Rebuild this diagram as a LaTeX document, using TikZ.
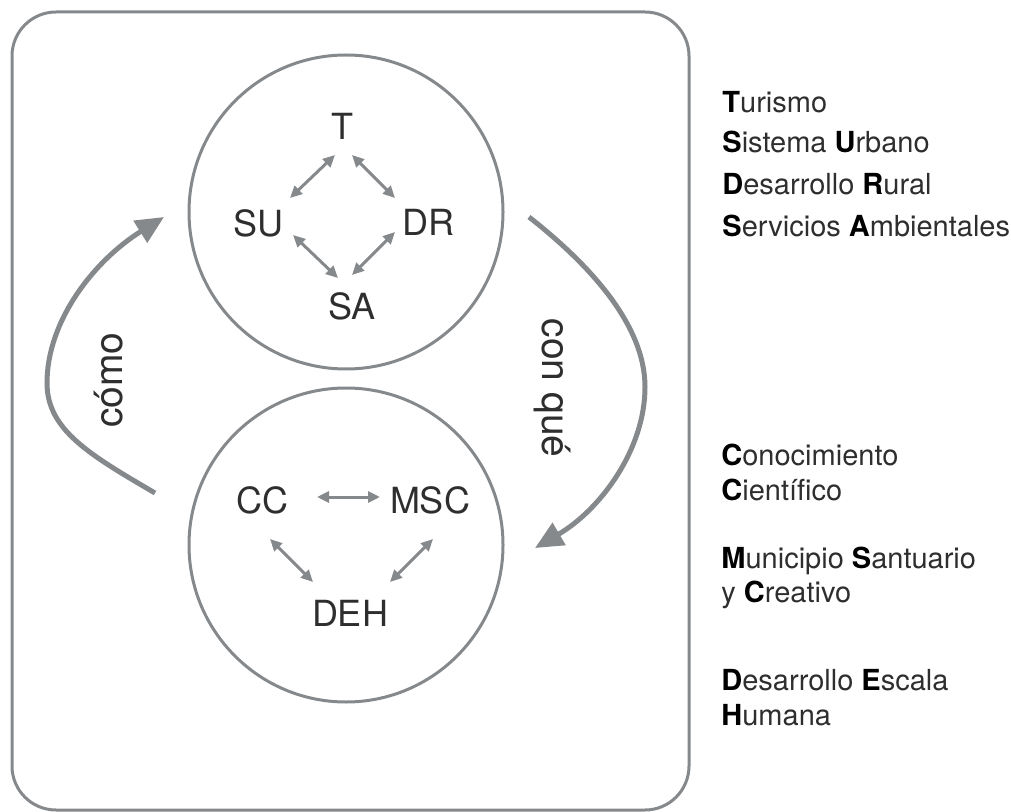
\documentclass[tikz,border=0pt]{standalone}
\usepackage{fontspec}
\setmainfont{TeX Gyre Heros}
\usetikzlibrary{arrows.meta,calc}

\definecolor{linegray}{HTML}{85898C}
\definecolor{textgray}{HTML}{2E2E2E}
\newcommand{\initial}[1]{\textbf{\color{black}#1}}

\begin{document}
\begin{tikzpicture}[
    x=0.5pt, y=-0.5pt,
    frame/.style={draw=linegray, line width=1.5pt, rounded corners=22pt},
    ring/.style={circle, draw=linegray, line width=1.5pt, minimum size=157pt, inner sep=0pt},
    tag/.style={font=\fontsize{18}{18}\selectfont, text=textgray, inner sep=0pt},
    side/.style={font=\fontsize{19.5}{19.5}\selectfont, text=textgray, inner sep=0pt},
    entry/.style={font=\fontsize{14.5}{14.5}\selectfont, text=textgray, anchor=base west, inner sep=0pt},
    link/.style={{Triangle[length=6pt,width=5.5pt]}-{Triangle[length=6pt,width=5.5pt]}, color=linegray, line width=1.5pt},
    flow/.style={-{Triangle[length=14pt,width=12.5pt]}, color=linegray, line width=2.5pt}
]
\useasboundingbox (0,0) rectangle (1011,812);

% Frame
\draw[frame] (12,12) rectangle (689,810);

% Circles
\node[ring] (upper) at (346,212) {};
\node[ring] (lower) at (346,545) {};

% Upper circle: tourism side
\node[tag] (T)  at (342,126) {T};
\node[tag] (SU) at (258,223) {SU};
\node[tag] (DR) at (428,222) {DR};
\node[tag] (SA) at (352,306) {SA};

\draw[link] ($(T)+(-7,29)$) -- ($(SU)+(32,-25)$);
\draw[link] ($(T)+(10,29)$) -- ($(DR)+(-33,-24)$);
\draw[link] ($(SU)+(35,12)$) -- ($(SA)+(-14,-28)$);
\draw[link] ($(DR)+(-33,10)$) -- ($(SA)+(0,-31)$);

% Lower circle: knowledge side
\node[tag] (CC)  at (262,500) {CC};
\node[tag] (MSC) at (430,500) {MSC};
\node[tag] (DEH) at (350,613) {DEH};

\draw[link] ($(CC)+(55,-3)$) -- ($(MSC)+(-50,-3)$);
\draw[link] ($(CC)+(8,39)$) -- ($(DEH)+(-37,-31)$);
\draw[link] ($(MSC)+(3,39)$) -- ($(DEH)+(40,-31)$);

% Big arrows between the circles
\coordinate (comoA) at (155,493);
\coordinate (comoM) at (47,383);
\coordinate (comoB) at (164,217);
\coordinate (conA) at (529,217);
\coordinate (conM) at (645,387);
\coordinate (conB) at (535,548);

\draw[flow] (comoA) .. controls (90,455) and (47,430) .. (comoM)
    .. controls (47,320) and (95,260) .. (comoB);
\draw[flow] (conA) .. controls (590,265) and (645,325) .. (conM)
    .. controls (645,450) and (600,510) .. (conB);

\node[side, rotate=90] (como) at (109,380) {cómo};
\node[side, rotate=-90] (conque) at (552,388) {con qué};

% Legend
\node[entry] (tur) at (722,113) {\initial{T}urismo};
\node[entry] (sur) at (722,153) {\initial{S}istema \initial{U}rbano};
\node[entry] (dru) at (722,195) {\initial{D}esarrollo \initial{R}ural};
\node[entry] (sam) at (722,237) {\initial{S}ervicios \initial{A}mbientales};

\node[entry] (cc1) at (721,465) {\initial{C}onocimiento};
\node[entry] (cc2) at (721,500) {\initial{C}ientífico};
\node[entry] (ms1) at (721,568) {\initial{M}unicipio \initial{S}antuario};
\node[entry] (ms2) at (721,602) {y \initial{C}reativo};
\node[entry] (de1) at (721,690) {\initial{D}esarrollo \initial{E}scala};
\node[entry] (de2) at (721,725) {\initial{H}umana};

\end{tikzpicture}
\end{document}
